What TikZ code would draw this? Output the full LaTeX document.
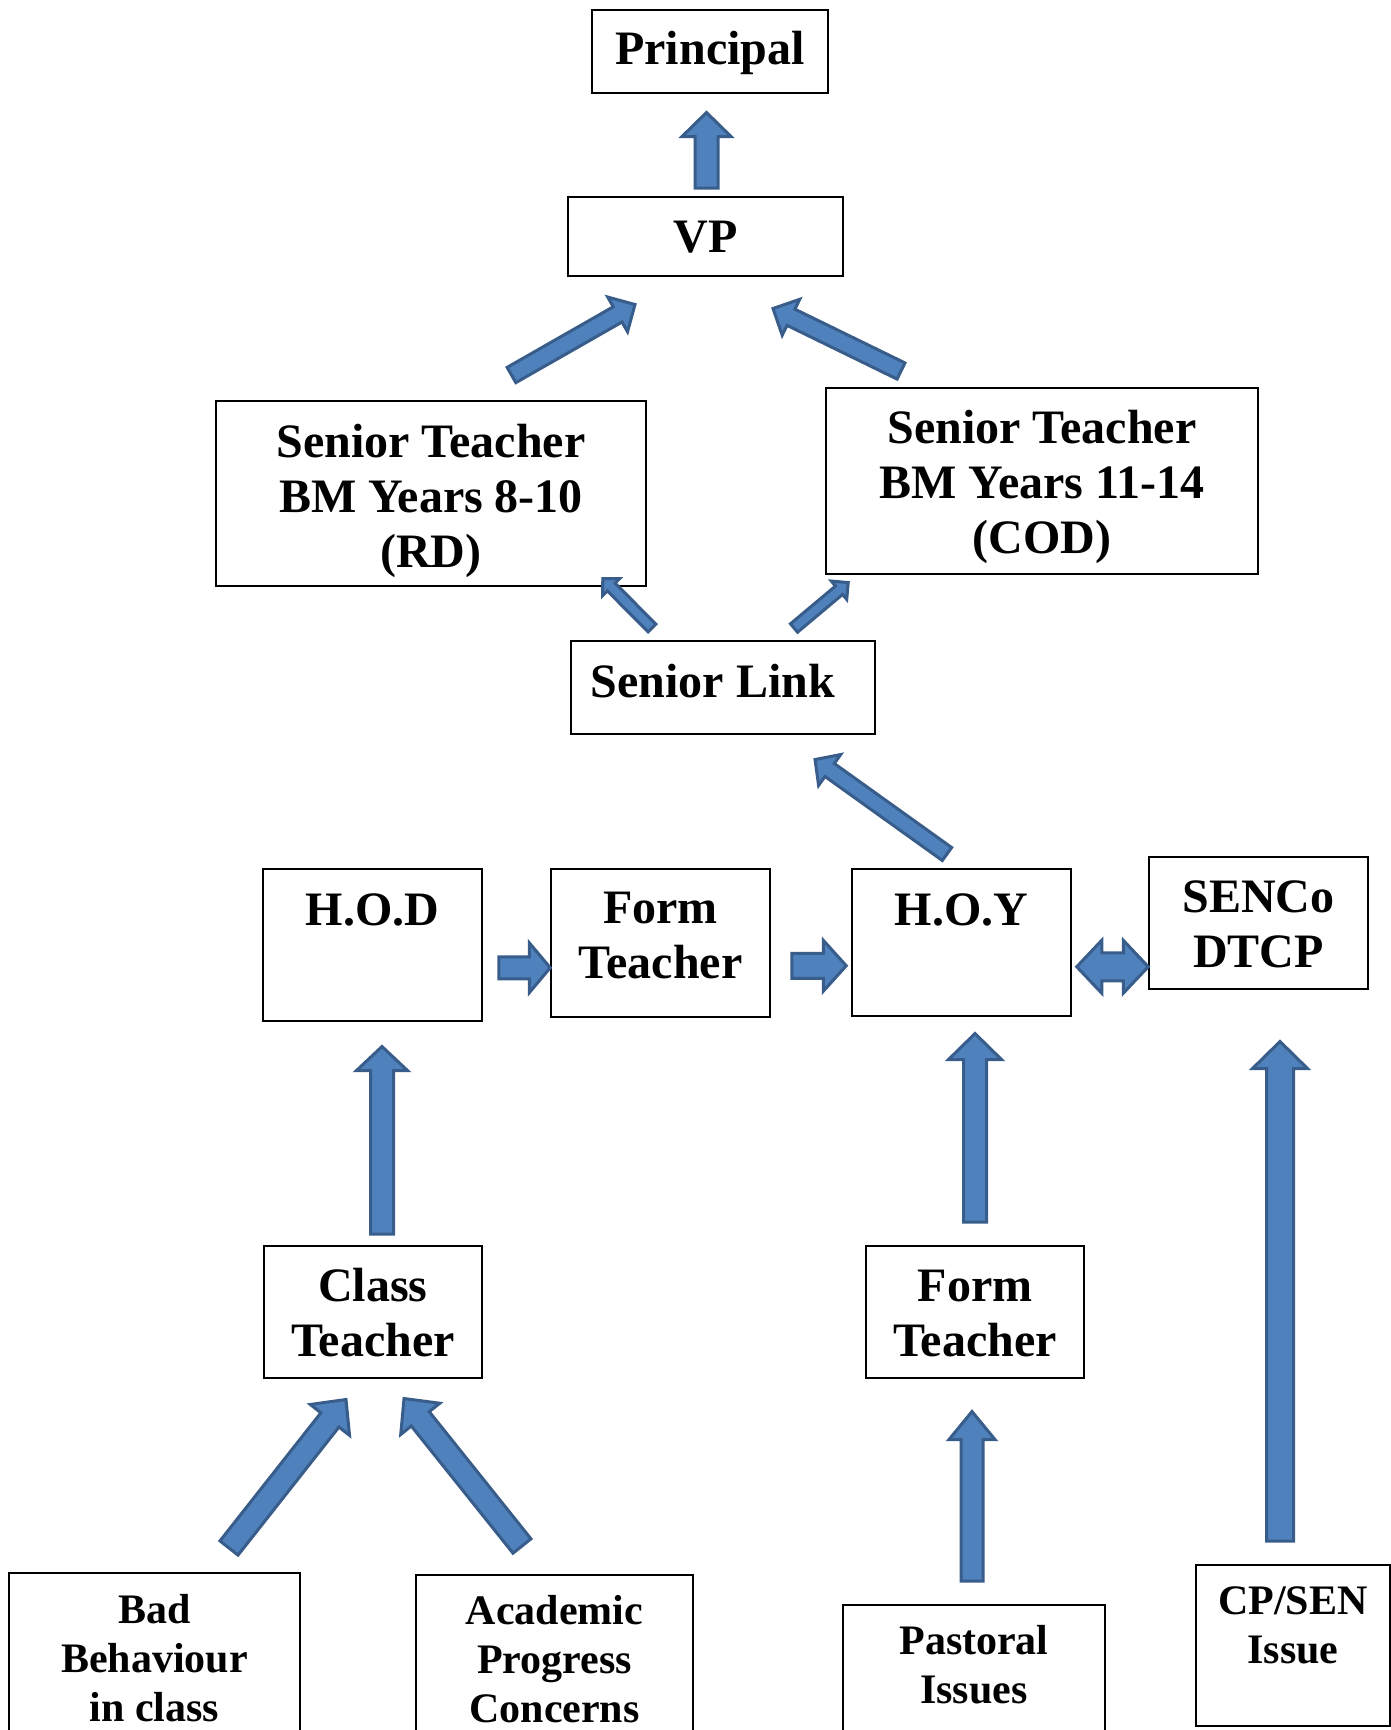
\documentclass[tikz,border=0pt]{standalone}
\usepackage{fontspec}
\setmainfont{Liberation Serif}
\usetikzlibrary{calc}
\definecolor{arrowfill}{HTML}{4F81BD}
\definecolor{arrowline}{HTML}{385D8A}
\newcommand{\boxfont}{\fontsize{48}{55}\selectfont\bfseries}
\newcommand{\issuefont}{\fontsize{42}{49}\selectfont\bfseries}
% block arrow: shaft half width, head half width, head length, tail, tip
\newcommand{\blkarrow}[5]{%
  \draw[blockarrow] let \p1=(#4), \p2=(#5), \n1={atan2(\y2-\y1,\x2-\x1)}, \n2={veclen(\x2-\x1,\y2-\y1)} in
    [shift={(\p1)},rotate=\n1] (0,#1) -- ({\n2-#3},#1) -- ({\n2-#3},#2) -- (\n2,0)
    -- ({\n2-#3},-#2) -- ({\n2-#3},-#1) -- (0,-#1) -- cycle;}
% same, with a head at both ends
\newcommand{\dblarrow}[5]{%
  \draw[blockarrow] let \p1=(#4), \p2=(#5), \n1={atan2(\y2-\y1,\x2-\x1)}, \n2={veclen(\x2-\x1,\y2-\y1)} in
    [shift={(\p1)},rotate=\n1] (0,0) -- (#3,#2) -- (#3,#1) -- ({\n2-#3},#1) -- ({\n2-#3},#2) -- (\n2,0)
    -- ({\n2-#3},-#2) -- ({\n2-#3},-#1) -- (#3,-#1) -- (#3,-#2) -- cycle;}
\begin{document}
\begin{tikzpicture}[x=1pt,y=-1pt,
  post/.style={draw,line width=1.5pt,rectangle,inner sep=0pt,align=center,anchor=north,font=\boxfont},
  issue/.style={post,font=\issuefont},
  blockarrow/.style={fill=arrowfill,draw=arrowline,line width=3pt,line join=miter}]
\useasboundingbox (0,0) rectangle (1391,1730);
\clip (0,0) rectangle (1391,1730);
% top of the chain
\node[post,minimum width=236pt,text height=55pt,text depth=28pt] (PR) at (710,9) {Principal};
\node[post,minimum width=275pt,text height=56pt,text depth=23pt] (VP) at (705.5,196) {VP};
\node[post,minimum width=430pt,text height=167pt,text depth=18pt] (STL) at (431,400) {Senior Teacher\\BM Years 8-10\\(RD)};
\node[post,minimum width=432pt,text height=166pt,text depth=20pt] (STR) at (1042,387) {Senior Teacher\\BM Years 11-14\\(COD)};
\node[post,minimum width=304pt,text height=57pt,text depth=36pt] (SL) at (723,640) {Senior Link\hspace*{20pt}};
% middle row
\node[post,minimum width=219pt,text height=57pt,text depth=95pt] (HOD) at (372.5,868) {H.O.D};
\node[post,minimum width=219pt,text height=110pt,text depth=38pt] (FT) at (660.5,868) {Form\\Teacher};
\node[post,minimum width=219pt,text height=57pt,text depth=90pt] (HOY) at (961.5,868) {H.O.Y};
\node[post,minimum width=219pt,text height=111pt,text depth=21pt] (SEN) at (1258.5,856) {SENCo\\DTCP};
\node[post,minimum width=218pt,text height=111pt,text depth=21pt] (CT) at (373,1245) {Class\\Teacher};
\node[post,minimum width=218pt,text height=111pt,text depth=21pt] (FTB) at (975,1245) {Form\\Teacher};
% issues
\node[issue,minimum width=291pt,text height=149pt,text depth=60pt] (BAD) at (154.5,1572) {Bad\\Behaviour\\in class};
\node[issue,minimum width=277pt,text height=148pt,text depth=60pt] (ACD) at (554.5,1574) {Academic\\Progress\\Concerns};
\node[issue,minimum width=262pt,text height=99pt,text depth=60pt] (PAS) at (974,1604) {Pastoral\\Issues};
\node[issue,minimum width=194pt,text height=99pt,text depth=62pt] (CPS) at (1293,1564) {CP/SEN\\Issue};
% arrows
\blkarrow{11.5}{24.5}{24}{$(VP.north)+(1,-8)$}{$(PR.south)+(-3.5,19)$}
\blkarrow{8.8}{20}{20}{$(STL.north)+(80.5,-25)$}{$(VP.south)+(-70.5,28)$}
\blkarrow{9}{20}{20}{$(STR.north)+(-141,-16)$}{$(VP.south)+(67.5,32)$}
\blkarrow{5.5}{12}{12}{$(SL.north)+(-71,-12)$}{$(STL.south east)+(-44,-8)$}
\blkarrow{5.5}{12}{12}{$(SL.north)+(71,-12)$}{$(STR.south west)+(23,8)$}
\blkarrow{8}{19}{18}{$(HOY.north)+(-14.5,-14)$}{$(SL.south)+(92,25)$}
\blkarrow{11}{25}{21}{$(HOD.east)+(16,23)$}{$(FT.west)+(0,25)$}
\blkarrow{12.5}{25.5}{23}{$(FT.east)+(21,23)$}{$(HOY.west)+(-5,23.5)$}
\dblarrow{14}{26.5}{25}{$(HOY.east)+(5,24.5)$}{$(SEN.west)+(0,44)$}
\blkarrow{11.5}{25.5}{24}{$(CT.north)+(9,-11)$}{$(HOD.south)+(9.5,25)$}
\blkarrow{11.5}{26.5}{26}{$(FTB.north)+(0,-23)$}{$(HOY.south)+(13.5,17)$}
\blkarrow{13.5}{27.5}{27}{$(CPS.north)+(-13,-23)$}{$(SEN.south)+(21.5,52)$}
\blkarrow{11.5}{25}{26}{$(BAD.north)+(74.5,-24)$}{$(CT.south)+(-27,21)$}
\blkarrow{11.5}{25}{26}{$(ACD.north)+(-32.5,-28)$}{$(CT.south)+(31,20)$}
\blkarrow{11}{23}{28}{$(PAS.north)+(-2,-23)$}{$(FTB.south)+(-3,33)$}
\end{tikzpicture}
\end{document}
